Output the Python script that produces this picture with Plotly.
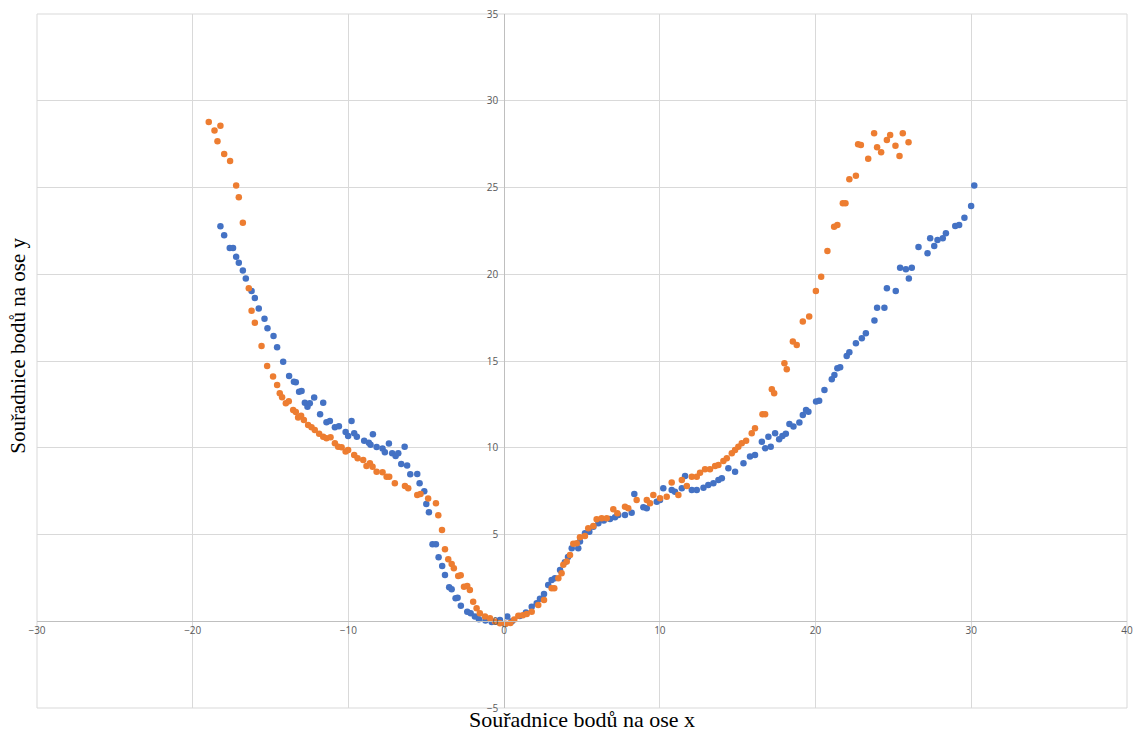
import plotly.graph_objects as go

# ---- data ----
blue_x = [-18.22, -17.98, -17.62, -17.41, -17.21, -17.04, -16.78, -16.59, -16.22, -16.01,
          -15.76, -15.39, -15.20, -14.81, -14.58, -14.19, -13.81, -13.50, -13.38, -13.17,
          -13.01, -12.80, -12.63, -12.48, -12.20, -11.82, -11.62, -11.41, -11.19, -10.87,
          -10.61, -10.18, -10.02, -9.80, -9.63, -9.46, -8.99, -8.69, -8.58, -8.43,
          -8.19, -7.81, -7.66, -7.40, -7.19, -6.97, -6.80, -6.61, -6.39, -6.23,
          -6.03, -5.58, -5.43, -5.13, -5.00, -4.83, -4.60, -4.38, -4.21, -3.98,
          -3.80, -3.53, -3.37, -3.12, -2.99, -2.78, -2.37, -2.15, -1.88, -1.62,
          -1.20, -0.80, -0.27, 0.05, 0.20, 0.50, 1.00, 1.40, 1.77, 2.09,
          2.30, 2.56, 2.83, 3.05, 3.26, 3.59, 3.90, 4.10, 4.34, 4.76,
          4.87, 5.19, 5.47, 5.73, 6.05, 6.40, 6.80, 7.12, 7.33, 7.76,
          8.19, 8.36, 8.94, 9.16, 9.80, 10.01, 10.22, 10.76, 10.97, 11.41,
          11.62, 12.05, 12.37, 12.80, 13.11, 13.44, 13.76, 13.98, 14.40, 14.83,
          15.37, 15.79, 16.11, 16.55, 16.76, 16.97, 17.12, 17.40, 17.66, 17.87,
          18.09, 18.32, 18.58, 18.96, 19.18, 19.39, 19.54, 20.03, 20.23, 20.57,
          21.04, 21.21, 21.40, 21.58, 22.00, 22.17, 22.59, 22.97, 23.23, 23.78,
          23.95, 24.42, 24.58, 25.15, 25.43, 25.80, 25.99, 26.18, 26.61, 27.19,
          27.36, 27.62, 27.83, 28.17, 28.37, 28.97, 29.22, 29.56, 29.99, 30.19]
blue_y = [22.77, 22.25, 21.52, 21.52, 21.01, 20.67, 20.21, 19.75, 19.04, 18.63,
          18.02, 17.44, 16.89, 16.44, 15.79, 14.96, 14.14, 13.81, 13.78, 13.23,
          13.27, 12.60, 12.37, 12.56, 12.89, 11.93, 12.60, 11.47, 11.54, 11.18,
          11.24, 10.91, 10.68, 11.54, 10.84, 10.64, 10.41, 10.29, 10.18, 10.78,
          10.05, 9.95, 9.74, 10.24, 9.68, 9.53, 9.68, 9.07, 10.06, 8.97,
          8.47, 8.49, 7.95, 7.49, 6.76, 6.28, 4.44, 4.44, 3.69, 3.19,
          2.67, 1.96, 1.84, 1.33, 1.36, 0.90, 0.55, 0.46, 0.27, 0.12,
          0.05, -0.05, 0.07, -0.16, 0.27, 0.00, 0.30, 0.50, 0.84, 1.04,
          1.30, 1.57, 2.09, 2.38, 2.48, 2.96, 3.40, 3.70, 4.21, 4.21,
          4.59, 5.07, 5.16, 5.45, 5.65, 5.80, 5.90, 5.99, 6.13, 6.13,
          6.26, 7.34, 6.57, 6.51, 6.89, 6.99, 7.67, 7.57, 7.47, 7.67,
          8.37, 7.57, 7.57, 7.70, 7.86, 7.95, 8.14, 8.24, 8.82, 8.62,
          9.11, 9.49, 9.58, 10.35, 9.97, 10.64, 10.06, 10.84, 10.49, 10.68,
          10.80, 11.37, 11.22, 11.45, 11.89, 12.18, 12.08, 12.66, 12.71, 13.33,
          13.95, 14.20, 14.58, 14.64, 15.29, 15.50, 16.02, 16.31, 16.60, 17.33,
          18.07, 18.07, 19.19, 19.04, 20.38, 20.29, 19.75, 20.38, 21.57, 21.21,
          22.07, 21.63, 21.98, 22.07, 22.36, 22.78, 22.84, 23.26, 23.94, 25.11]

orange_x = [-18.97, -18.60, -18.41, -18.22, -17.98, -17.60, -17.21, -17.04, -16.78, -16.40,
            -16.22, -16.01, -15.58, -15.22, -14.84, -14.58, -14.41, -14.26, -14.02, -13.83,
            -13.55, -13.38, -13.23, -13.04, -12.86, -12.59, -12.37, -12.16, -11.88, -11.62,
            -11.41, -11.15, -10.87, -10.66, -10.44, -10.18, -10.02, -9.63, -9.41, -9.05,
            -8.84, -8.62, -8.45, -8.19, -7.81, -7.55, -7.38, -7.02, -6.37, -6.16,
            -5.58, -5.37, -4.88, -4.38, -4.23, -3.99, -3.80, -3.59, -3.37, -3.23,
            -2.95, -2.79, -2.58, -2.37, -2.20, -1.99, -1.77, -1.56, -1.23, -0.91,
            -0.59, -0.27, 0.10, 0.40, 0.65, 0.91, 1.20, 1.45, 1.77, 2.19,
            2.56, 3.05, 3.22, 3.48, 3.69, 3.80, 4.02, 4.23, 4.44, 4.66,
            4.87, 5.19, 5.40, 5.73, 5.94, 6.26, 6.59, 7.01, 7.27, 7.76,
            7.97, 8.51, 9.16, 9.37, 9.58, 10.01, 10.44, 10.76, 11.19, 11.41,
            11.73, 12.05, 12.37, 12.58, 12.90, 13.22, 13.55, 13.76, 14.08, 14.30,
            14.62, 14.83, 15.04, 15.26, 15.54, 15.90, 16.11, 16.59, 16.76, 17.19,
            17.34, 18.00, 18.15, 18.54, 18.79, 19.18, 19.59, 20.02, 20.36, 20.76,
            21.19, 21.40, 21.75, 21.92, 22.17, 22.59, 22.73, 22.91, 23.38, 23.76,
            23.95, 24.21, 24.58, 24.79, 25.13, 25.39, 25.60, 25.97]
orange_y = [28.78, 28.28, 27.67, 28.56, 26.93, 26.53, 25.11, 24.44, 22.97, 19.19,
            17.90, 17.21, 15.87, 14.71, 14.10, 13.62, 13.14, 12.91, 12.56, 12.68,
            12.18, 12.06, 11.74, 11.85, 11.60, 11.31, 11.18, 11.03, 10.80, 10.64,
            10.55, 10.61, 10.26, 10.06, 10.03, 9.78, 9.87, 9.58, 9.39, 9.30,
            8.95, 9.11, 8.91, 8.62, 8.59, 8.33, 8.33, 7.95, 7.80, 7.67,
            7.28, 7.34, 7.07, 6.80, 6.11, 5.26, 4.15, 3.57, 3.30, 3.05,
            2.61, 2.65, 1.99, 2.03, 1.80, 1.13, 0.75, 0.46, 0.27, 0.17,
            -0.02, -0.12, -0.15, -0.10, 0.10, 0.31, 0.35, 0.42, 0.55, 0.94,
            1.23, 1.90, 1.90, 2.48, 2.77, 3.25, 3.44, 3.82, 4.46, 4.50,
            4.84, 4.92, 5.36, 5.49, 5.88, 5.94, 5.94, 6.46, 6.22, 6.60,
            6.51, 6.99, 6.99, 6.80, 7.28, 7.09, 7.18, 7.99, 7.28, 8.14,
            7.80, 8.33, 8.33, 8.56, 8.76, 8.76, 8.95, 9.01, 9.24, 9.39,
            9.68, 9.87, 10.06, 10.26, 10.41, 10.84, 11.12, 11.93, 11.93, 13.37,
            13.14, 14.87, 14.52, 16.12, 15.92, 17.27, 17.56, 19.04, 19.86, 21.34,
            22.74, 22.84, 24.09, 24.09, 25.48, 25.68, 27.49, 27.45, 26.65, 28.13,
            27.32, 27.03, 27.74, 28.03, 27.40, 26.82, 28.13, 27.61]

x_ticks = [-30, -20, -10, 0, 10, 20, 30, 40]
y_ticks = [-5, 0, 5, 10, 15, 20, 25, 30, 35]
x_title = "Souřadnice bodů na ose x"
y_title = "Souřadnice bodů na ose y"

BLUE = "#4472C4"
ORANGE = "#ED7D31"
GRID = "#D9D9D9"
AXIS = "#BFBFBF"
TICKFONT = dict(family="Open Sans, Liberation Sans, sans-serif", size=10, color="#595959")

fig = go.Figure()
fig.add_trace(go.Scatter(x=blue_x, y=blue_y, mode="markers",
                         marker=dict(color=BLUE, size=6.5, line=dict(width=0)),
                         showlegend=False, hoverinfo="x+y"))
fig.add_trace(go.Scatter(x=orange_x, y=orange_y, mode="markers",
                         marker=dict(color=ORANGE, size=6.5, line=dict(width=0)),
                         showlegend=False, hoverinfo="x+y"))

xmin, xmax = x_ticks[0], x_ticks[-1]
ymin, ymax = y_ticks[0], y_ticks[-1]

fig.update_layout(
    width=1135, height=734,
    margin=dict(l=37, r=8, t=14, b=26, autoexpand=False),
    paper_bgcolor="white", plot_bgcolor="white",
    xaxis=dict(range=[xmin, xmax], tickvals=x_ticks, showgrid=True, gridcolor=GRID, gridwidth=1,
               zeroline=False, showline=True, linecolor=AXIS, linewidth=1,
               anchor="free", position=(0 - ymin) / (ymax - ymin), automargin=False,
               ticks="", ticklen=0, tickfont=TICKFONT, fixedrange=True),
    yaxis=dict(range=[ymin, ymax], tickvals=y_ticks, showgrid=True, gridcolor=GRID, gridwidth=1,
               zeroline=False, showline=True, linecolor=AXIS, linewidth=1,
               anchor="free", position=(0 - xmin) / (xmax - xmin), automargin=False,
               ticks="", ticklen=0, ticklabelstandoff=4, tickfont=TICKFONT, fixedrange=True),
    shapes=[dict(type="rect", xref="paper", yref="paper", x0=0, y0=0, x1=1, y1=1,
                 line=dict(color=GRID, width=1), layer="below")],
    annotations=[
        dict(text=x_title, xref="paper", yref="paper", x=0.5, y=0, yshift=-26,
             xanchor="center", yanchor="bottom", showarrow=False,
             font=dict(family="Liberation Serif, Times New Roman, serif", size=22, color="black")),
        dict(text=y_title, xref="paper", yref="paper", x=0, xshift=-19, y=0.522,
             xanchor="center", yanchor="middle", showarrow=False, textangle=-90,
             font=dict(family="Liberation Serif, Times New Roman, serif", size=21, color="black")),
    ],
)

fig.write_html("out.html")
